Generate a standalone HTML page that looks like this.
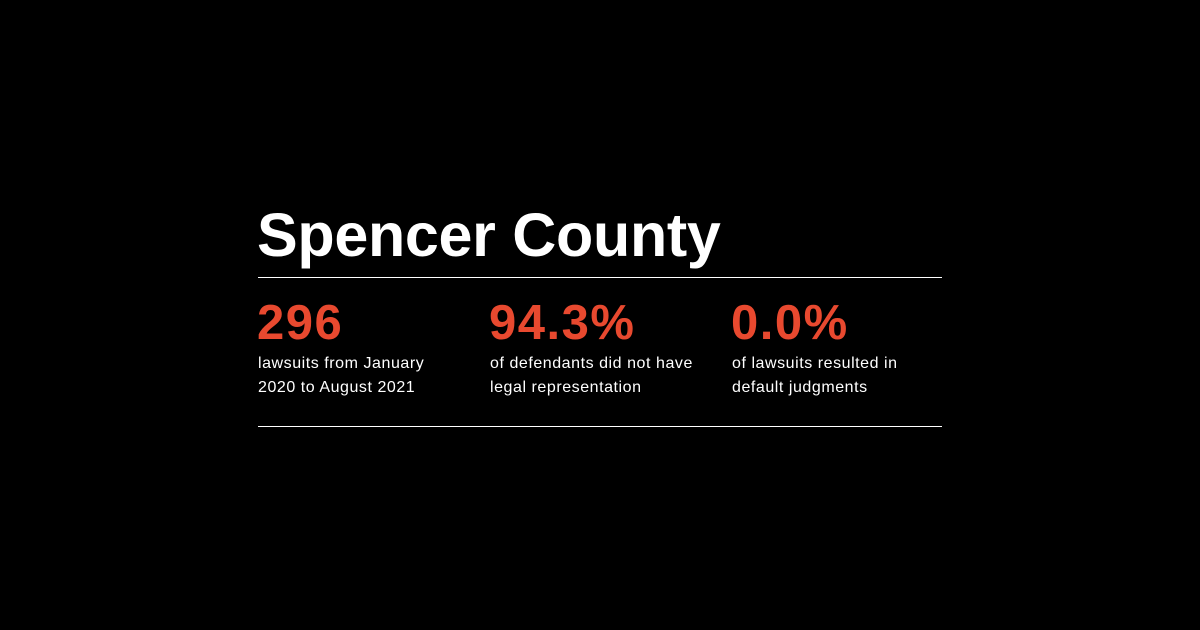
<!DOCTYPE html>
<html><head><meta charset="utf-8"><style>
body{margin:0;width:1200px;height:630px;background:#000;overflow:hidden;font-family:"Liberation Sans",Arial,sans-serif;color:#fff;position:relative}
h1{position:absolute;left:257px;top:195px;margin:0;font-size:61px;font-weight:bold;line-height:80px;letter-spacing:-0.3px}
.rule{position:absolute;left:258px;width:684px;height:1px;background:#fff}
.num{position:absolute;top:296px;font-size:49px;font-weight:bold;color:#e8492f;line-height:54px;letter-spacing:1.5px}
.lab{position:absolute;top:352px;font-size:16px;line-height:24px;letter-spacing:0.55px}
</style></head><body>
<h1>Spencer County</h1>
<div class="rule" style="top:277px"></div>
<div class="num" style="left:257px">296</div>
<div class="lab" style="left:258px">lawsuits from January<br>2020 to August 2021</div>
<div class="num" style="left:489px">94.3%</div>
<div class="lab" style="left:490px">of defendants did not have<br>legal representation</div>
<div class="num" style="left:731px">0.0%</div>
<div class="lab" style="left:732px">of lawsuits resulted in<br>default judgments</div>
<div class="rule" style="top:426px"></div>
</body></html>
